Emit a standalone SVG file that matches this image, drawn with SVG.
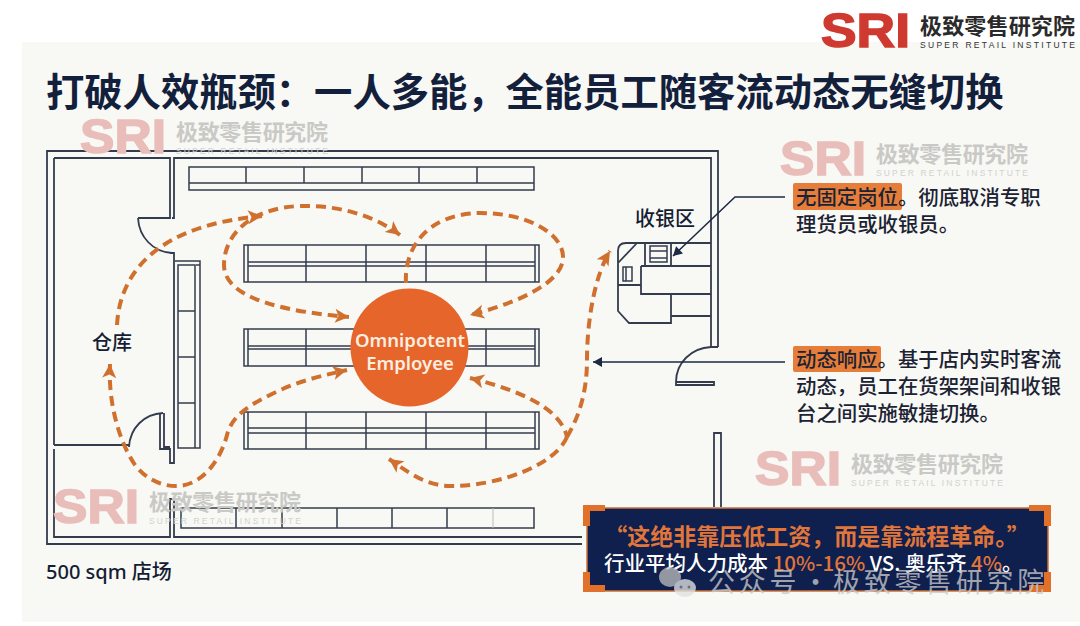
<svg xmlns="http://www.w3.org/2000/svg" width="1080" height="626" viewBox="0 0 1080 626">
<style>
text{font-family:"Noto Sans CJK SC","Noto Sans",sans-serif}
.w{fill:none;stroke:#333c4e;stroke-width:1.8}
.t{fill:none;stroke:#333c4e;stroke-width:1.5}
.f{fill:none;stroke:#d0702f;stroke-width:4;stroke-dasharray:10 6}
.a{fill:none;stroke:#1d2a44;stroke-width:1.5}
.lab{fill:#141d33;font-size:20px;font-weight:500}
.body{fill:#1b2233;font-size:20.4px;font-weight:500}
.logo{font-family:"Liberation Sans",sans-serif;font-weight:700;font-size:48px;stroke-width:1.5px}
.cn{font-size:22px;font-weight:700}
.en{font-family:"Liberation Sans",sans-serif;font-size:8.5px}
.wm .logo{fill:#e9bdb9;stroke:#e9bdb9}.wm .cn{fill:#c9c9c6}.wm .en{fill:#d2d2cf}
.br{fill:#e0702a}
</style>
<defs>
<marker id="ah" markerUnits="userSpaceOnUse" markerWidth="18" markerHeight="18" refX="15" refY="9" orient="auto-start-reverse" viewBox="0 0 18 18"><path d="M1 2 L15 9 L1 16 L4.5 9 Z" fill="#d0702f"/></marker>
<marker id="bh" markerUnits="userSpaceOnUse" markerWidth="12" markerHeight="12" refX="10" refY="6" orient="auto" viewBox="0 0 12 12"><path d="M1 1 L10 6 L1 11 Z" fill="#1d2a44"/></marker>
</defs>
<rect width="1080" height="626" fill="#fff"/>
<rect x="22" y="42" width="1058" height="580" fill="#f8f8f4"/>
<text x="46" y="106" font-size="38.3" font-weight="700" fill="#13203c">打破人效瓶颈：一人多能，全能员工随客流动态无缝切换</text>

<g id="floorplan">
<path class="w" d="M711 347V158H174V218H172M718 347V151H47V544H582M54 158H170V218H138M54 445H129M54 449V537H170V499H174V537H582M54 158V445M170 253H174V463H170V449H160V413M164 413V447H170"/>
<path class="w" d="M138 218C139 237 153 252 172 253M163 413C144 414 130 428 129 447"/>
<path class="w" d="M711 347H718M711 347C691 348 676 363 676 382H714V385H676V382"/>
<path class="w" d="M714 507V433H721V507"/>
</g>
<g id="shelf-top"><path class="t" d="M189 167H534V190H189ZM189 183H534M246 167V183M304 167V183M362 167V183M419 167V183M477 167V183"/></g>
<g id="shelf-left"><path class="t" d="M175 261H200V448H178V265H195V448M178 311H195M178 357H195M178 403H195M196 265H200"/></g>
<g id="shelf-row-1"><path class="t" d="M244 245H539V282H244ZM248 245V282M535 245V282M248 262H535M248 266H535M306 245V282M366 245V282M426 245V282M486 245V282"/></g>
<g id="shelf-row-2"><path class="t" d="M244 329H539V366H244ZM248 329V366M535 329V366M248 346H535M248 349H535M306 329V366M366 329V366M426 329V366M486 329V366"/></g>
<g id="shelf-row-3"><path class="t" d="M244 412H539V449H244ZM248 412V449M535 412V449M248 428H535M248 433H535M306 412V449M366 412V449M426 412V449M486 412V449"/></g>
<g id="shelf-bottom"><path class="t" d="M181 508H534V528H181ZM236 508V528M282 508V528M337 508V528M392 508V528M447 508V528"/><path d="M493 508V528" stroke="#bbb" fill="none"/></g>
<g id="checkout"><path class="w" d="M711 243H626Q618 243 618 251V311L629 323H671V294M671 316H711M641 266H711M641 266V294H711M618 263L637 243M645 243V266M671 243V266M618 285H641"/><path class="t" d="M650 246H667V262H650ZM650 251H667M650 258H667M623 267H632V281H623ZM626 267V281"/></g>

<g id="connectors">
<path class="f" marker-end="url(#ah)" d="M117 325C120 270 160 225 262 216"/>
<path class="f" marker-start="url(#ah)" marker-end="url(#ah)" d="M400 235C370 212 330 205 300 206C250 208 224 235 224 265C224 300 290 312 349 317"/>
<path class="f" marker-end="url(#ah)" d="M406 283C404 250 425 214 480 213C530 213 564 235 563 258C562 285 510 305 470 315"/>
<path class="f" marker-start="url(#ah)" marker-end="url(#ah)" d="M110 364C108 400 118 440 135 465C145 478 160 486 176 486C205 486 222 455 227 435C232 415 250 405 270 395C295 382 320 376 347 370"/>
<path class="f" marker-end="url(#ah)" d="M567 437C580 415 587 390 587 360C587 320 595 275 610 251"/>
<path class="f" marker-start="url(#ah)" d="M470 378C510 388 560 405 567 437"/>
<path class="f" marker-end="url(#ah)" d="M567 437C555 465 500 486 450 486C425 486 405 470 389 459"/>
<path class="a" marker-end="url(#bh)" d="M785 197H735L673 256"/>
<path class="a" marker-end="url(#bh)" d="M785 362H593"/>
</g>

<g id="employee"><circle cx="409.500" cy="347.500" r="59" fill="#e6652a"/>
<text x="410" y="347" text-anchor="middle" font-size="18.500" font-weight="600" fill="#fbeee0" style="font-family:'Noto Sans',sans-serif">Omnipotent</text>
<text x="410" y="370" text-anchor="middle" font-size="18.500" font-weight="600" fill="#fbeee0" style="font-family:'Noto Sans',sans-serif">Employee</text></g>

<g id="label-warehouse"><text class="lab" x="92" y="350">仓库</text></g>
<g id="label-checkout"><text class="lab" x="635" y="226">收银区</text></g>
<g id="label-area"><text class="lab" x="46" y="579" style="font-family:'Noto Sans','Noto Sans CJK SC',sans-serif">500 sqm 店场</text></g>

<g id="note-1"><rect x="793" y="183" width="109" height="27" rx="2" fill="#e67e3a"/>
<text class="body" x="796" y="205">无固定岗位。彻底取消专职</text>
<text class="body" x="796" y="232">理货员或收银员。</text></g>
<g id="note-2"><rect x="793" y="346" width="88" height="26" rx="2" fill="#e67e3a"/>
<text class="body" x="796" y="367">动态响应。基于店内实时客流</text>
<text class="body" x="796" y="394">动态，员工在货架架间和收银</text>
<text class="body" x="796" y="421">台之间实施敏捷切换。</text></g>

<g id="quote"><rect x="587" y="508" width="461" height="83" fill="#0f1f4e" stroke="#c9733a" stroke-width="1.5"/>
<path class="br" d="M583 505H605V511H590V526H583ZM1051 505H1029V511H1044V526H1051ZM583 572H590V585H605V592H583ZM1051 572H1044V585H1029V592H1051Z"/>
<text x="817" y="545" text-anchor="middle" font-size="23" font-weight="700" fill="#e0763a">“这绝非靠压低工资，而是靠流程革命。”</text>
<text x="604" y="571" font-size="20.500" font-weight="500" fill="#fff">行业平均人力成本 <tspan fill="#e0763a">10%-16%</tspan> VS. 奥乐齐 <tspan fill="#e0763a">4%</tspan>。</text></g>

<g id="brand"><text class="logo" x="821" y="47" textLength="89" lengthAdjust="spacingAndGlyphs" fill="#cf3a30" stroke="#cf3a30">SRI</text>
<text class="cn" x="920" y="34" textLength="155" fill="#2a2a2a">极致零售研究院</text>
<text class="en" x="920" y="48" textLength="155" fill="#333">SUPER RETAIL INSTITUTE</text></g>

<g id="watermarks" class="wm">
<text class="logo" x="80" y="153" textLength="86" lengthAdjust="spacingAndGlyphs">SRI</text><text class="cn" x="176" y="140" textLength="152">极致零售研究院</text><text class="en" x="176" y="154" textLength="152">SUPER RETAIL INSTITUTE</text>
<text class="logo" x="780" y="175" textLength="86" lengthAdjust="spacingAndGlyphs">SRI</text><text class="cn" x="876" y="162" textLength="152">极致零售研究院</text><text class="en" x="876" y="176" textLength="152">SUPER RETAIL INSTITUTE</text>
<text class="logo" x="755" y="485" textLength="86" lengthAdjust="spacingAndGlyphs">SRI</text><text class="cn" x="851" y="472" textLength="152">极致零售研究院</text><text class="en" x="851" y="486" textLength="152">SUPER RETAIL INSTITUTE</text>
<text class="logo" x="53" y="523" textLength="86" lengthAdjust="spacingAndGlyphs">SRI</text><text class="cn" x="149" y="510" textLength="152">极致零售研究院</text><text class="en" x="149" y="524" textLength="152">SUPER RETAIL INSTITUTE</text>
</g>

<g id="wechat-mark" opacity=".78"><ellipse cx="670" cy="577" rx="11" ry="10" fill="#b9b9b9"/><ellipse cx="685" cy="588" rx="11" ry="9" fill="#e2e2e2"/><circle cx="681" cy="587" r="1.500" fill="#888"/><circle cx="689" cy="587" r="1.500" fill="#888"/>
<text y="592" font-size="27" letter-spacing="3.700" fill="#c9c9c9"><tspan x="708">公众号</tspan><tspan x="802">·</tspan><tspan x="833">极致零售研究院</tspan></text></g>
</svg>
